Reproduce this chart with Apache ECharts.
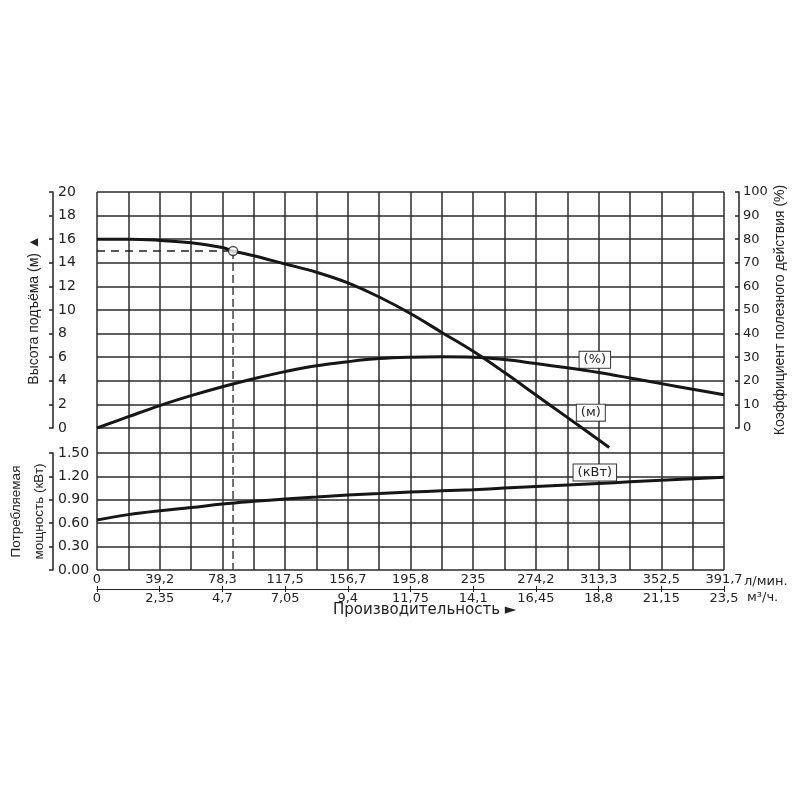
<!DOCTYPE html>
<html>
<head>
<meta charset="utf-8">
<script src="https://cdn.jsdelivr.net/npm/echarts@6/dist/echarts.min.js"></script>
<style>
html,body{margin:0;padding:0;background:#fff;}
#chart{width:800px;height:800px;}
</style>
</head>
<body>
<div id="chart"></div>
<script>
// ---- tick labels ----
const lpmTicks = ['0','39,2','78,3','117,5','156,7','195,8','235','274,2','313,3','352,5','391,7'];
const m3hTicks = ['0','2,35','4,7','7,05','9,4','11,75','14,1','16,45','18,8','21,15','23,5'];
const qMax = 391.7;

// ---- head curve (м) ----
const qHead = [0, 19.6, 39.2, 58.8, 78.3, 85, 97.9, 117.5, 137.1, 156.7, 176.3, 195.8, 215.4, 235, 254.6, 274.2, 293.8, 313.3, 320];
const head  = [16.0, 16.0, 15.9, 15.7, 15.3, 15.0, 14.6, 13.9, 13.2, 12.3, 11.1, 9.7, 8.1, 6.5, 4.7, 2.8, 0.9, -1.0, -1.65];

// ---- efficiency curve (%) ----
const qEff = [0, 19.6, 39.2, 58.8, 78.3, 97.9, 117.5, 137.1, 156.7, 176.3, 195.8, 215.4, 235, 254.6, 274.2, 293.8, 313.3, 332.9, 352.5, 372.1, 391.7];
const eff  = [0, 4.8, 9.5, 13.7, 17.5, 20.9, 23.9, 26.4, 28.1, 29.4, 30.0, 30.2, 30.0, 29.0, 27.3, 25.5, 23.5, 21.2, 18.8, 16.4, 14.1];

// ---- power curve (кВт) ----
const qPow = [0, 19.6, 39.2, 58.8, 78.3, 97.9, 117.5, 137.1, 156.7, 176.3, 195.8, 215.4, 235, 254.6, 274.2, 293.8, 313.3, 332.9, 352.5, 372.1, 391.7];
const pow  = [0.64, 0.71, 0.76, 0.80, 0.845, 0.88, 0.91, 0.935, 0.96, 0.98, 1.00, 1.015, 1.03, 1.05, 1.07, 1.09, 1.11, 1.13, 1.15, 1.17, 1.19];

// ---- operating point ----
const opQ = 85, opH = 15;
const headBottomOfChart = -12; // lower edge of the power panel, in head units (6 rows x 2 m)

// ---- curve tags (data units) ----
const tagEff  = [311, 28.9];
const tagHead = [308.5, 1.3];
const tagPow  = [311, 1.25];

const WIDE = '"DejaVu Sans", "Liberation Sans", Arial, sans-serif';
const NARROW = '"Liberation Sans", Arial, sans-serif';
const TXT = '#222';
const GRIDC = '#2b2b2b';

// category data for the background axis: 21 grid positions, labels on even ones
const catL = [];
for (let i = 0; i < lpmTicks.length; i++) {
  catL.push(lpmTicks[i]);
  if (i < lpmTicks.length - 1) catL.push('');
}
const zip = (a, b) => a.map((v, i) => [v, b[i]]);

const curveStyle = { color: '#161616', width: 3 };
const tagLabel = (txt) => ({
  show: true, position: 'inside', formatter: txt,
  backgroundColor: '#fff', borderColor: '#333', borderWidth: 1,
  padding: [2, 4, 1, 4], color: TXT, fontSize: 13, fontFamily: WIDE
});
const tag = (coord, txt) => ({
  symbol: 'rect', symbolSize: 1,
  itemStyle: { color: 'rgba(0,0,0,0)' },
  label: tagLabel(txt),
  data: [{ coord: coord }]
});
const ts = (size, extra) => Object.assign({ fontSize: size, fontWeight: 'normal', color: TXT, fontFamily: WIDE }, extra || {});
const quietX = (gi, extra) => Object.assign({
  gridIndex: gi, type: 'value', min: 0, max: qMax,
  axisLine: { show: false, onZero: false }, axisTick: { show: false },
  axisLabel: { show: false }, splitLine: { show: false }
}, extra || {});
const gridBox = (top, height) => ({ left: 97, right: 76, top: top, height: height, containLabel: false, outerBoundsMode: 'none' });

const chart = echarts.init(document.getElementById('chart'), null, { renderer: 'canvas' });
chart.setOption({
  backgroundColor: '#fff',
  animation: false,
  textStyle: { fontFamily: WIDE },
  title: [
    { text: 'Производительность ►', left: 333, top: 603, padding: 0, textStyle: ts(15) },
    { text: 'л/мин.', left: 744, top: 575, padding: 0, textStyle: ts(13) },
    { text: 'м³/ч.', left: 747, top: 591, padding: 0, textStyle: ts(13) }
  ],
  grid: [gridBox(192, 378), gridBox(192, 236), gridBox(453, 117)],
  xAxis: [
    {
      gridIndex: 0, type: 'category', data: catL, boundaryGap: false,
      position: 'bottom', offset: 19,
      axisLine: { show: true, onZero: false, lineStyle: { color: '#222', width: 1.2 } },
      axisTick: { show: true, interval: 1, inside: true, length: 3, lineStyle: { color: '#222' } },
      axisLabel: { inside: true, interval: 1, margin: 3, fontSize: 13, color: TXT, fontFamily: WIDE },
      splitLine: { show: true, interval: 0, lineStyle: { color: GRIDC, width: 1.5 } }
    },
    quietX(1),
    quietX(2, {
      position: 'bottom', offset: 19, interval: qMax / 10,
      axisTick: { show: true, length: 3, lineStyle: { color: '#222' } },
      axisLabel: { show: true, margin: 3, fontSize: 13, color: TXT, fontFamily: WIDE,
                   formatter: v => m3hTicks[Math.round(v / (qMax / 10))] }
    })
  ],
  yAxis: [
    {
      gridIndex: 1, type: 'value', min: 0, max: 20, interval: 2,
      position: 'left', offset: 44, nameMoveOverlap: false,
      axisLine: { show: true, onZero: false, lineStyle: { color: '#222', width: 1.5 } },
      axisTick: { show: true, length: 4, lineStyle: { color: '#222', width: 1.5 } },
      axisLabel: { inside: true, margin: 5, fontSize: 14, color: TXT, fontFamily: WIDE },
      splitLine: { show: true, lineStyle: { color: GRIDC, width: 1.5 } },
      name: 'Высота подъёма (м) ▲', nameLocation: 'middle', nameGap: 12,
      nameTextStyle: { fontSize: 14, color: TXT, fontFamily: NARROW }
    },
    {
      gridIndex: 1, type: 'value', min: 0, max: 100, interval: 10,
      position: 'right', offset: 15, nameMoveOverlap: false,
      axisLine: { show: true, onZero: false, lineStyle: { color: '#222', width: 1.5 } },
      axisTick: { show: true, inside: true, length: 4, lineStyle: { color: '#222', width: 1.5 } },
      axisLabel: { margin: 4, fontSize: 13, color: TXT, fontFamily: WIDE },
      splitLine: { show: false },
      name: 'Коэффициент полезного действия (%)', nameLocation: 'middle', nameGap: 34,
      nameTextStyle: { fontSize: 14, color: TXT, fontFamily: NARROW }
    },
    {
      gridIndex: 2, type: 'value', min: 0, max: 1.5, interval: 0.3,
      position: 'left', offset: 44, nameMoveOverlap: false,
      axisLine: { show: true, onZero: false, lineStyle: { color: '#222', width: 1.5 } },
      axisTick: { show: true, length: 4, lineStyle: { color: '#222', width: 1.5 } },
      axisLabel: { inside: true, margin: 5, fontSize: 14, color: TXT, fontFamily: WIDE,
                   formatter: v => v.toFixed(2) },
      splitLine: { show: true, lineStyle: { color: GRIDC, width: 1.5 } },
      name: 'Потребляемая\nмощность (кВт)', nameLocation: 'middle', nameGap: 2,
      nameTextStyle: { fontSize: 13.5, lineHeight: 23, color: TXT, fontFamily: NARROW }
    },
    {
      gridIndex: 0, type: 'value', min: 0, max: 1,
      axisLine: { show: false, onZero: false }, axisTick: { show: false },
      axisLabel: { show: false }, splitLine: { show: false }
    }
  ],
  series: [
    {
      name: 'КПД', type: 'line', xAxisIndex: 1, yAxisIndex: 1,
      data: zip(qEff, eff), smooth: 0.4, symbol: 'none', lineStyle: curveStyle, z: 5,
      markPoint: tag(tagEff, '(%)')
    },
    {
      name: 'Напор', type: 'line', xAxisIndex: 1, yAxisIndex: 0,
      data: zip(qHead, head), smooth: 0.4, symbol: 'none', lineStyle: curveStyle, clip: false, z: 5,
      markPoint: tag(tagHead, '(м)')
    },
    {
      name: 'Мощность', type: 'line', xAxisIndex: 2, yAxisIndex: 2,
      data: zip(qPow, pow), smooth: 0.4, symbol: 'none', lineStyle: curveStyle, z: 5,
      markPoint: tag(tagPow, '(кВт)')
    },
    {
      type: 'line', xAxisIndex: 1, yAxisIndex: 0, data: [[0, opH], [opQ, opH]],
      symbol: 'none', lineStyle: { color: '#222', width: 1.3, type: [8, 6] }, z: 4
    },
    {
      type: 'line', xAxisIndex: 1, yAxisIndex: 0, data: [[opQ, opH], [opQ, headBottomOfChart]],
      symbol: 'none', clip: false, lineStyle: { color: '#222', width: 1.3, type: [8, 4] }, z: 4
    },
    {
      type: 'scatter', xAxisIndex: 1, yAxisIndex: 0, data: [[opQ, opH]],
      symbol: 'circle', symbolSize: 9, z: 10,
      itemStyle: { color: '#fff', borderColor: '#222', borderWidth: 1.3 }
    }
  ]
});
</script>
</body>
</html>
